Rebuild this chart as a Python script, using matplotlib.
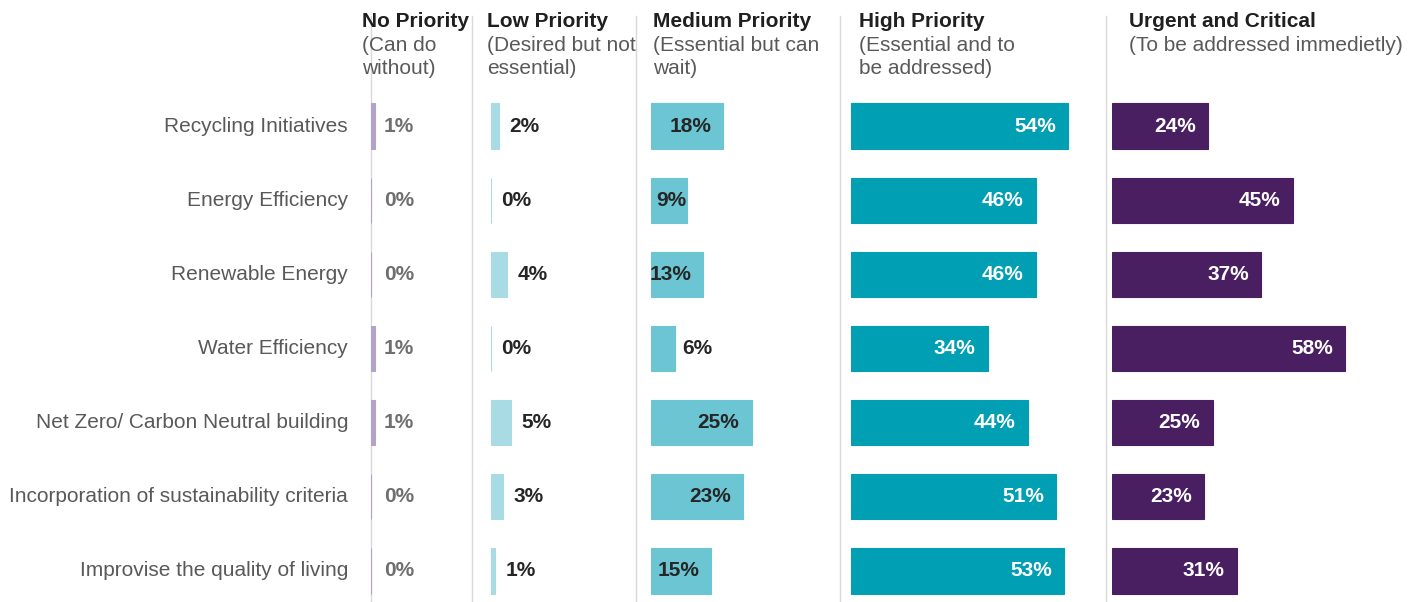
import matplotlib.pyplot as plt
from matplotlib.lines import Line2D

plt.rcParams['font.family'] = ['Liberation Sans', 'DejaVu Sans']

categories = ["Recycling Initiatives", "Energy Efficiency", "Renewable Energy",
              "Water Efficiency", "Net Zero/ Carbon Neutral building",
              "Incorporation of sustainability criteria", "Improvise the quality of living"]
no_priority = [1, 0, 0, 1, 1, 0, 0]
low_priority = [2, 0, 4, 0, 5, 3, 1]
medium_priority = [18, 9, 13, 6, 25, 23, 15]
high_priority = [54, 46, 46, 34, 44, 51, 53]
urgent = [24, 45, 37, 58, 25, 23, 31]

titles = ["No Priority", "Low Priority", "Medium Priority", "High Priority", "Urgent and Critical"]
subtitles = [["(Can do", "without)"], ["(Desired but not", "essential)"],
             ["(Essential but can", "wait)"], ["(Essential and to", "be addressed)"],
             ["(To be addressed immedietly)"]]

W, H = 1424, 602
fig = plt.figure(figsize=(W / 100, H / 100), dpi=100)

PX_PER_PCT = 4.02
ROW_TOP, ROW_BOTTOM = 89, 608

# panel layout in pixels: bar start, panel width, title x, separator x
panels = [
    dict(vals=no_priority, color="#b4a3c9", tcolor="#6f6f6f", x0=371, w=100, tx=362, sep=371, mode="fixed"),
    dict(vals=low_priority, color="#a8dbe4", tcolor="#262626", x0=491, w=144, tx=487, sep=472, mode="outside"),
    dict(vals=medium_priority, color="#6cc5d3", tcolor="#262626", x0=651, w=188, tx=653, sep=636, mode="medium"),
    dict(vals=high_priority, color="#009fb4", tcolor="white", x0=851, w=254, tx=859, sep=840, mode="inside"),
    dict(vals=urgent, color="#4a1f62", tcolor="white", x0=1112, w=312, tx=1129, sep=1106, mode="inside"),
]

ypos = list(range(len(categories)))

for p in panels:
    ax = fig.add_axes([p["x0"] / W, 1 - ROW_BOTTOM / H, p["w"] / W, (ROW_BOTTOM - ROW_TOP) / H])
    ax.barh(ypos, p["vals"], height=0.61, color=p["color"], edgecolor=p["color"], linewidth=0.8)
    ax.set_xlim(0, p["w"] / PX_PER_PCT)
    ax.set_ylim(len(categories) - 0.5, -0.5)
    ax.axis("off")
    for y, v in zip(ypos, p["vals"]):
        lab = f"{v}%"
        kw = dict(va="center", fontsize=15, fontweight="bold", color=p["tcolor"])
        if p["mode"] == "fixed":
            ax.text(3.2, y, lab, ha="left", **kw)
        elif p["mode"] == "outside":
            ax.text(v + 2.6, y, lab, ha="left", **kw)
        elif p["mode"] == "inside":
            ax.text(v - 3.0, y, lab, ha="right", **kw)
        else:
            if v < 8:
                ax.text(v + 1.8, y, lab, ha="left", **kw)
            elif v < 10:
                ax.text(1.2, y, lab, ha="left", **kw)
            else:
                ax.text(v - 3.0, y, lab, ha="right", **kw)

    # column separator
    fig.add_artist(Line2D([p["sep"] / W, p["sep"] / W], [0, 1 - 16 / H],
                          color="#d9d9d9", linewidth=1.0, zorder=0))

for p, t, sub in zip(panels, titles, subtitles):
    fig.text(p["tx"] / W, 1 - 27 / H, t, fontsize=15, fontweight="bold",
             color="#1f1f1f", va="baseline", ha="left")
    for k, line in enumerate(sub):
        fig.text(p["tx"] / W, 1 - (51 + 23 * k) / H, line, fontsize=15,
                 color="#595959", va="baseline", ha="left")

# category labels
row_h = (ROW_BOTTOM - ROW_TOP) / len(categories)
for i, c in enumerate(categories):
    fig.text(348 / W, 1 - (ROW_TOP + row_h * (i + 0.5)) / H, c, fontsize=15,
             color="#595959", ha="right", va="center")

fig.savefig("out.png", dpi=100, facecolor="white")
